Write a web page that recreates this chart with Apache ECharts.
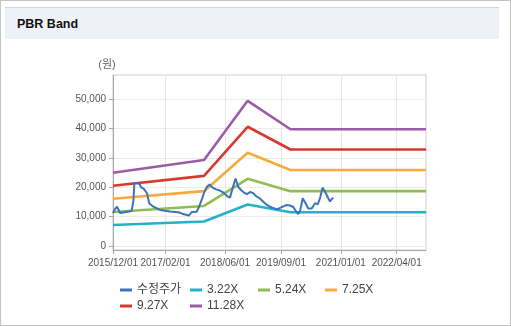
<!DOCTYPE html>
<html><head><meta charset="utf-8">
<script src="https://cdn.jsdelivr.net/npm/echarts@6/dist/echarts.min.js"></script>
<style>
html,body{margin:0;padding:0;background:#fff;}
#wrap{position:relative;width:511px;height:326px;box-sizing:border-box;border:1px solid #c4c4c4;background:#fff;overflow:hidden;}
#hdr{position:absolute;left:4px;top:6px;width:494px;height:31px;background:#eef1f7;border-top:1px solid #d6d6d6;}
#ttl{position:absolute;left:12px;top:0;font:bold 12.5px "Liberation Sans",Arial,sans-serif;line-height:33px;color:#111;}
#chart{position:absolute;left:-1px;top:-1px;width:511px;height:326px;}
</style></head>
<body>
<div id="wrap">
  <div id="hdr"><div id="ttl">PBR Band</div></div>
  <div id="chart"></div>
</div>
<script>
// ---- data ----
const xTickLabels = ['2015/12/01','2017/02/01','2018/06/01','2019/09/01','2021/01/01','2022/04/01'];
const yTicks = [0,10000,20000,30000,40000,50000];
const xRange = ['2015-12-01','2022-11-26'];
const yRange = [-1360, 58300];

const seriesNames = ['수정주가','3.22X','5.24X','7.25X','9.27X','11.28X'];

const stockDates = [
 '2015-12-01','2015-12-17','2016-01-03','2016-01-27','2016-03-16','2016-05-01','2016-05-16','2016-05-23',
 '2016-06-14','2016-07-06','2016-07-16','2016-08-10','2016-09-03','2016-09-22','2016-10-25','2016-11-24',
 '2016-12-18','2017-03-10','2017-05-30','2017-06-24','2017-07-10','2017-08-12','2017-09-03','2017-10-13',
 '2017-11-01','2017-11-23','2017-12-12','2018-01-03','2018-01-26','2018-02-15','2018-03-20','2018-04-21',
 '2018-05-24','2018-06-18','2018-07-12','2018-08-05','2018-08-26','2018-09-18','2018-10-10','2018-11-03',
 '2018-11-28','2018-12-22','2019-01-15','2019-02-09','2019-03-13','2019-04-09','2019-05-06','2019-06-03',
 '2019-06-28','2019-07-28','2019-08-24','2019-09-20','2019-10-17','2019-11-13','2019-12-10','2020-01-05',
 '2020-01-20','2020-02-03','2020-02-25','2020-03-19','2020-04-10','2020-05-08','2020-06-04','2020-06-26',
 '2020-07-15','2020-08-04','2020-08-25','2020-09-20','2020-10-04','2020-10-31'];
const stockValues = [
 11250,12600,13400,11250,11600,11900,15700,21500,
 21500,21100,20100,19400,18000,14500,13400,12800,
 12300,11750,11400,10900,10400,10400,11600,11700,
 13300,15700,18100,20100,21000,20100,19300,18900,
 18100,17000,16500,20100,23000,20100,19100,18200,
 17700,18400,18100,17000,16200,15100,14100,13400,
 13000,12500,13000,13500,14000,13800,13300,11600,
 10900,11900,16300,14600,12800,12800,14600,14200,
 16300,19900,18500,16300,15200,16500];

const bandDates = ['2015-12-01','2017-12-12','2018-12-03','2019-11-17','2022-11-26'];
const band322  = [7150, 8350, 14150, 11500, 11500];
const band524  = [11600, 13650, 22900, 18700, 18700];
const band725  = [16100, 18700, 31800, 25900, 25900];
const band927  = [20550, 23900, 40650, 32900, 32900];
const band1128 = [25000, 29300, 49500, 39800, 39800];

const colors = ['#3b73bd','#22b3c9','#8fbd4e','#f8aa3c','#d8392f','#9a5ba7'];

// ---- build ----
function ts(s){const p=s.split(/[-\/]/);return Date.UTC(+p[0],+p[1]-1,+p[2]);}
function pad(n){return (n<10?'0':'')+n;}
function fmtDate(v){const d=new Date(v);return d.getUTCFullYear()+'/'+pad(d.getUTCMonth()+1)+'/'+pad(d.getUTCDate());}
function pairs(dates, vals){return dates.map((d,i)=>[ts(d), vals[i]]);}

const FONT = '"Liberation Sans", Arial, "Noto Sans CJK KR", sans-serif';
const xTickVals = xTickLabels.map(ts);
const bandVals = [band322, band524, band725, band927, band1128];

const series = [{
  name: seriesNames[0], type:'line', data: pairs(stockDates, stockValues),
  showSymbol:false, symbol:'none', lineStyle:{width:2, color:colors[0]}, itemStyle:{color:colors[0]}, z:3
}];
bandVals.forEach((b,i)=>{
  series.push({name: seriesNames[i+1], type:'line', data: pairs(bandDates, b),
    showSymbol:false, symbol:'none', lineStyle:{width:2.6, color:colors[i+1]}, itemStyle:{color:colors[i+1]}, z:2});
});

const legendPos = [[115,279],[185,279],[253,279],[320,279],[115,295],[185,295]];
const legends = seriesNames.map((n,i)=>({
  data:[n], left:legendPos[i][0], top:legendPos[i][1], icon:'rect', itemWidth:12, itemHeight:3,
  textStyle:{fontSize:12, color:'#444', fontFamily:FONT}, selectedMode:false
}));

const chart = echarts.init(document.getElementById('chart'), null, {renderer:'canvas'});
chart.setOption({
  animation:false,
  color: colors,
  grid:{left:113, right:85, top:75, bottom:76, show:true, borderColor:'#cfcfcf', borderWidth:1, backgroundColor:'transparent'},
  legend: legends,
  xAxis:{
    type:'value', min: ts(xRange[0]), max: ts(xRange[1]),
    axisLine:{onZero:false, lineStyle:{color:'#a8a8a8'}},
    axisTick:{show:true, length:4, lineStyle:{color:'#a8a8a8'}, customValues: xTickVals},
    axisLabel:{customValues: xTickVals, formatter: fmtDate, fontSize:10, color:'#555', margin:8, fontFamily:FONT},
    splitLine:{show:true, lineStyle:{color:'#e6e6e6'}}
  },
  yAxis:{
    type:'value', min: yRange[0], max: yRange[1],
    name:'(원)', nameLocation:'end', nameGap:5,
    nameTextStyle:{fontSize:11, color:'#666', padding:[0,12,0,0], fontFamily:FONT},
    axisLine:{show:true, lineStyle:{color:'#a8a8a8'}},
    axisTick:{show:true, length:4, lineStyle:{color:'#a8a8a8'}, customValues: yTicks},
    axisLabel:{customValues: yTicks, formatter: v=>v.toLocaleString('en-US'), fontSize:10, color:'#555', margin:7, fontFamily:FONT},
    splitLine:{show:true, lineStyle:{color:'#ebebeb'}}
  },
  series: series
});
</script>
</body></html>
